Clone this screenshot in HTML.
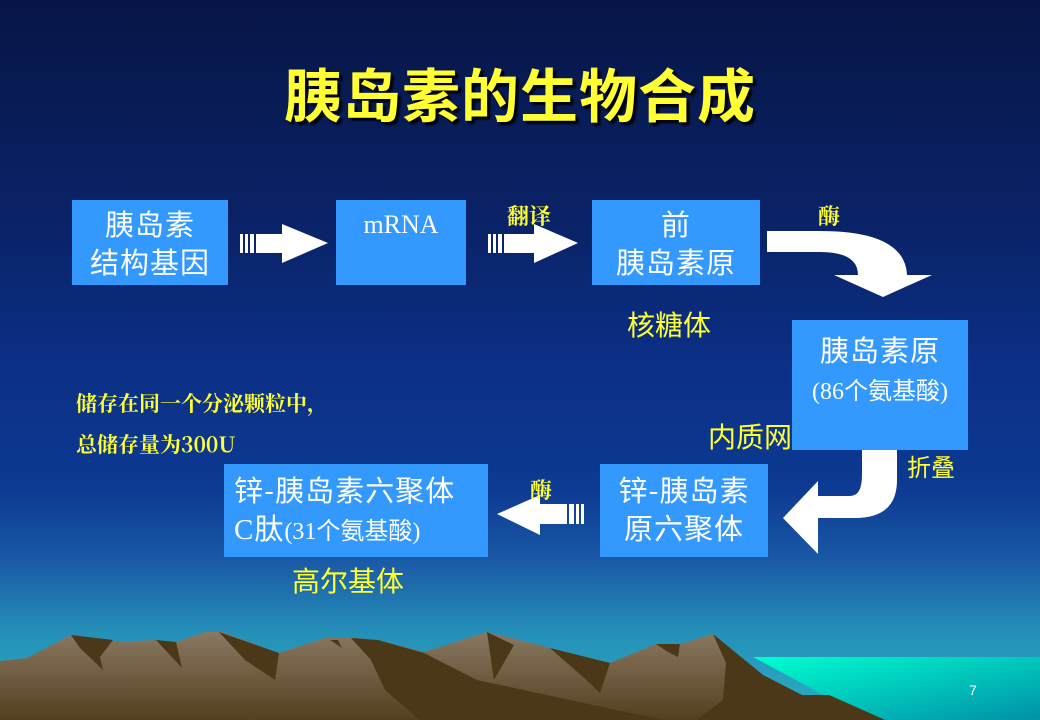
<!DOCTYPE html>
<html><head><meta charset="utf-8"><style>
body{margin:0;width:1040px;height:720px;overflow:hidden;position:relative;font-family:"Liberation Serif","Noto Serif CJK SC","Noto Sans CJK SC",serif;
background:linear-gradient(180deg,#071546 0%,#0a2266 30%,#0b2f85 50%,#0d3a92 68%,#1a5aa6 78%,#2590b8 88%,#2ab0c4 100%);}
.t{position:absolute;white-space:nowrap}
.box{position:absolute;background:#3399ff;color:#fff;text-align:center;font-size:29px;letter-spacing:1px;line-height:38px;font-family:"Noto Sans CJK SC",sans-serif}
.y{color:#ffff33;font-family:"Noto Sans CJK SC",sans-serif}
.s{font-family:"Noto Serif CJK SC",serif;font-weight:bold}
svg{position:absolute;left:0;top:0}
</style></head><body>
<svg width="1040" height="720">
<defs>
<linearGradient id="w" x1="0" y1="0" x2="1" y2="1"><stop offset="0" stop-color="#00ffd0"/><stop offset="1" stop-color="#0090a8"/></linearGradient>
<linearGradient id="m" x1="0" y1="0" x2="0" y2="1"><stop offset="0" stop-color="#8a7862"/><stop offset="1" stop-color="#54401f"/></linearGradient>
</defs>
<polygon points="753,657 1040,657 1040,720 870,720" fill="url(#w)"/>
<polygon fill="url(#m)" points="0,661 27,658 71,635 113,642 156,640 176,642 206,632 222,632 279,653 328,637 345,637 378,640 424,652 487,632 527,642 550,648 610,663 656,644 680,644 713,634 763,675 802,695 829,695 885,720 0,720"/>
<g fill="#4a3818">
<polygon points="71,635 113,640 100,657 103,670 80,648"/>
<polygon points="156,640 176,642 182,668"/>
<polygon points="219,632 279,653 275,680 245,660"/>
<polygon points="351,638 378,640 424,653 477,680 663,720 420,720 385,690 371,660"/>
<polygon points="487,632 514,645 494,680 491,660"/>
<polygon points="550,648 610,663 600,693 583,677"/>
<polygon points="713,634 763,675 802,695 829,695 885,720 696,720 723,700 726,663"/>
<polygon points="656,644 680,644 678,657 668,652"/>
<polygon points="330,640 338,640 342,648"/>
</g>
<!-- arrows -->
<g fill="#fff">
<rect x="240" y="234" width="3" height="19"/><rect x="245" y="234" width="3" height="19"/><rect x="250" y="234" width="4" height="19"/><rect x="256" y="234" width="26" height="19"/><polygon points="282,224 328,243 282,263"/>
<rect x="488" y="234" width="3" height="19"/><rect x="493" y="234" width="3" height="19"/><rect x="498" y="234" width="4" height="19"/><rect x="504" y="234" width="30" height="19"/><polygon points="534,224 578,243 534,263"/>
<rect x="581" y="504" width="3" height="20"/><rect x="576" y="504" width="3" height="20"/><rect x="569" y="504" width="5" height="20"/><rect x="540" y="504" width="27" height="20"/><polygon points="540,495 497,514 540,535"/>
<path d="M767,231 L820,231 Q905,231 907,275 L932,275 L883,297 L834,275 L858,275 Q858,252 820,252 L767,252 Z"/>
<path d="M862,423 L897,423 L897,480 Q897,518 855,518 L818,518 L818,554 L783,518 L818,481 L818,496 L850,496 Q862,496 862,475 Z"/>
</g>
</svg>
<div class="t y" style="left:0;width:1040px;top:50px;text-align:center;font-size:58px;letter-spacing:1px;font-weight:bold;text-shadow:3px 3px 2px #000">胰岛素的生物合成</div>
<div class="box" style="left:72px;top:200px;width:156px;height:85px;padding-top:4px;box-sizing:border-box">胰岛素<br>结构基因</div>
<div class="box" style="left:336px;top:200px;width:130px;height:85px;font-family:'Liberation Serif',serif;font-size:26px;letter-spacing:0;padding-top:6px;box-sizing:border-box">mRNA</div>
<div class="box" style="left:592px;top:200px;width:168px;height:85px;padding-top:4px;box-sizing:border-box">前<br>胰岛素原</div>
<div class="box" style="left:792px;top:320px;width:176px;height:130px;padding-top:10px;box-sizing:border-box">胰岛素原<br><span style="font-size:24px;letter-spacing:0;font-family:'Liberation Serif','Noto Sans CJK SC',serif">(86个氨基酸)</span></div>
<div class="box" style="left:600px;top:464px;width:168px;height:93px;padding-top:6px;box-sizing:border-box">锌-胰岛素<br>原六聚体</div>
<div class="box" style="left:224px;top:464px;width:264px;height:93px;padding-top:6px;padding-left:10px;text-align:left;box-sizing:border-box">锌-胰岛素六聚体<br><span style="font-family:'Liberation Serif','Noto Sans CJK SC',serif">C肽</span><span style="font-size:24px;letter-spacing:0;font-family:'Liberation Serif','Noto Sans CJK SC',serif">(31个氨基酸)</span></div>
<div class="t y s" style="left:507px;top:200px;font-size:22px">翻译</div>
<div class="t y s" style="left:818px;top:200px;font-size:22px">酶</div>
<div class="t y s" style="left:530px;top:474px;font-size:22px">酶</div>
<div class="t y" style="left:627px;top:304px;font-size:28px">核糖体</div>
<div class="t y" style="left:708px;top:416px;font-size:28px">内质网</div>
<div class="t y" style="left:907px;top:448px;font-size:24px">折叠</div>
<div class="t y" style="left:292px;top:560px;font-size:28px">高尔基体</div>
<div class="t y s" style="left:76px;top:388px;font-size:21px">储存在同一个分泌颗粒中，</div>
<div class="t y s" style="left:76px;top:429px;font-size:21px">总储存量为300U</div>
<div class="t" style="left:969px;top:682px;font-size:14px;color:#fff;font-family:'Liberation Sans',sans-serif">7</div>
</body></html>
